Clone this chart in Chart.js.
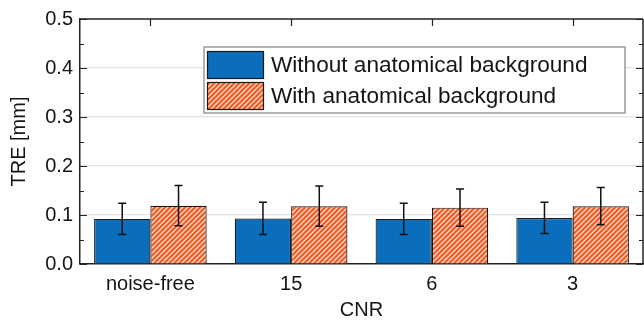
<!DOCTYPE html>
<html>
<head>
<meta charset="utf-8">
<script src="https://cdn.jsdelivr.net/npm/chart.js@4.4.1/dist/chart.umd.min.js"></script>
<style>
  html, body { margin: 0; padding: 0; background: #ffffff; }
  #wrap { width: 644px; height: 322px; }
</style>
</head>
<body>
<div id="wrap"><canvas id="c" width="644" height="322"></canvas></div>
<script>
// ---- data ----
const categories = ['noise-free', '15', '6', '3'];
const seriesLabels = ['Without anatomical background', 'With anatomical background'];
const withoutBg = [0.092, 0.093, 0.092, 0.094];
const withoutBgErr = [0.032, 0.033, 0.032, 0.032];
const withBg = [0.119, 0.118, 0.115, 0.118];
const withBgErr = [0.041, 0.041, 0.038, 0.038];
const yMin = 0, yMax = 0.5, yStep = 0.1, yMinorStep = 0.05;
const xTitle = 'CNR';
const yTitle = 'TRE [mm]';

const FONT = "'Liberation Sans', Arial, Helvetica, sans-serif";
const BLUE = '#0a6ebd';
const ORANGE = '#ef5a22';

function makeHatch() {
  const s = 5;
  const cv = document.createElement('canvas');
  cv.width = s; cv.height = s;
  const g = cv.getContext('2d');
  g.fillStyle = ORANGE;
  g.fillRect(0, 0, s, s);
  g.strokeStyle = 'rgba(255,235,225,0.9)';
  g.lineWidth = 1.3;
  g.beginPath();
  g.moveTo(-1, s + 1); g.lineTo(s + 1, -1);
  g.moveTo(-1, 1); g.lineTo(1, -1);
  g.moveTo(s - 1, s + 1); g.lineTo(s + 1, s - 1);
  g.stroke();
  return g.createPattern(cv, 'repeat');
}
const hatch = makeHatch();
const errs = [withoutBgErr, withBgErr];

const framePlugin = {
  id: 'frame',
  afterDatasetsDraw(chart) {
    const ctx = chart.ctx;
    const ca = chart.chartArea;
    const y = chart.scales.y, x = chart.scales.x;
    ctx.save();
    // error bars
    ctx.strokeStyle = '#111';
    ctx.lineWidth = 1.5;
    chart.data.datasets.forEach((ds, di) => {
      const meta = chart.getDatasetMeta(di);
      meta.data.forEach((bar, i) => {
        const v = ds.data[i], e = errs[di][i];
        const yt = y.getPixelForValue(v + e), yb = y.getPixelForValue(v - e);
        const cx = bar.x;
        ctx.beginPath();
        ctx.moveTo(cx, yt); ctx.lineTo(cx, yb);
        ctx.moveTo(cx - 4, yt); ctx.lineTo(cx + 4, yt);
        ctx.moveTo(cx - 4, yb); ctx.lineTo(cx + 4, yb);
        ctx.stroke();
      });
    });
    // frame
    ctx.strokeStyle = '#222';
    ctx.lineWidth = 1.5;
    ctx.beginPath();
    ctx.moveTo(ca.left, ca.top); ctx.lineTo(ca.right, ca.top);
    ctx.moveTo(ca.right, ca.top); ctx.lineTo(ca.right, ca.bottom);
    ctx.stroke();
    // inward ticks
    ctx.lineWidth = 1.2;
    ctx.beginPath();
    for (let v = yMin; v <= yMax + 1e-9; v += yMinorStep) {
      const py = Math.round(y.getPixelForValue(v)) + 0.5;
      const major = Math.abs(v / yStep - Math.round(v / yStep)) < 1e-6;
      const len = major ? 7 : 4;
      ctx.moveTo(ca.left, py); ctx.lineTo(ca.left + len, py);
      ctx.moveTo(ca.right, py); ctx.lineTo(ca.right - len, py);
    }
    categories.forEach((c, i) => {
      const px = Math.round(x.getPixelForValue(i)) + 0.5;
      ctx.moveTo(px, ca.top); ctx.lineTo(px, ca.top + 7);
    });
    ctx.stroke();
    ctx.restore();
  },
  afterDraw(chart) {
    // legend box
    const ctx = chart.ctx;
    ctx.save();
    const bx = 204, by = 47, bw = 421, bh = 66;
    ctx.fillStyle = '#fff';
    ctx.fillRect(bx, by, bw, bh);
    ctx.strokeStyle = '#9a9a9a';
    ctx.lineWidth = 1.5;
    ctx.strokeRect(bx, by, bw, bh);
    const rows = [[51, 28], [82, 28]];
    chart.data.datasets.forEach((ds, i) => {
      const [ry, rh] = rows[i];
      ctx.fillStyle = ds.backgroundColor;
      ctx.fillRect(207, ry, 57, rh);
      ctx.strokeStyle = '#1a1a1a';
      ctx.lineWidth = 1.2;
      ctx.strokeRect(207.5, ry + 0.5, 56, rh - 1);
      ctx.fillStyle = '#141414';
      ctx.font = '22.6px ' + FONT;
      ctx.textBaseline = 'middle';
      ctx.textAlign = 'left';
      ctx.fillText(ds.label, 271, ry + rh / 2 + 1);
    });
    ctx.restore();
  }
};

new Chart(document.getElementById('c'), {
  type: 'bar',
  data: {
    labels: categories,
    datasets: [
      { label: seriesLabels[0], data: withoutBg, backgroundColor: BLUE, borderColor: '#1a1a1a', borderWidth: 1.2 },
      { label: seriesLabels[1], data: withBg, backgroundColor: hatch, borderColor: '#1a1a1a', borderWidth: 1.2 }
    ]
  },
  options: {
    responsive: false,
    animation: false,
    devicePixelRatio: 1,
    layout: { padding: { top: 18, right: 1, left: 0, bottom: 0 } },
    datasets: { bar: { categoryPercentage: 0.8, barPercentage: 1.0 } },
    plugins: { legend: { display: false }, tooltip: { enabled: false } },
    scales: {
      x: {
        grid: { display: false, drawTicks: false },
        border: { display: true, color: '#222', width: 1.5 },
        ticks: { color: '#141414', font: { family: FONT, size: 20 }, padding: 8 },
        title: { display: true, text: xTitle, color: '#141414', font: { family: FONT, size: 20 }, padding: { top: 0, bottom: 0 } },
        afterFit(s) { s.height = 58; }
      },
      y: {
        min: yMin, max: yMax,
        grid: {
          drawTicks: false,
          color: (c) => (c.tick && c.tick.value > 0.001 && c.tick.value < yMax - 0.001) ? '#e2e2e2' : 'rgba(0,0,0,0)',
          lineWidth: 1.2
        },
        border: { display: true, color: '#222', width: 1.5 },
        ticks: { stepSize: yStep, color: '#141414', font: { family: FONT, size: 20 }, padding: 7,
                 callback: (v) => Number(v).toFixed(1) },
        title: { display: true, text: yTitle, color: '#141414', font: { family: FONT, size: 20 }, padding: { top: 7, bottom: 0 } },
        afterFit(s) { s.width = 80; }
      }
    }
  },
  plugins: [framePlugin]
});
</script>
</body>
</html>
